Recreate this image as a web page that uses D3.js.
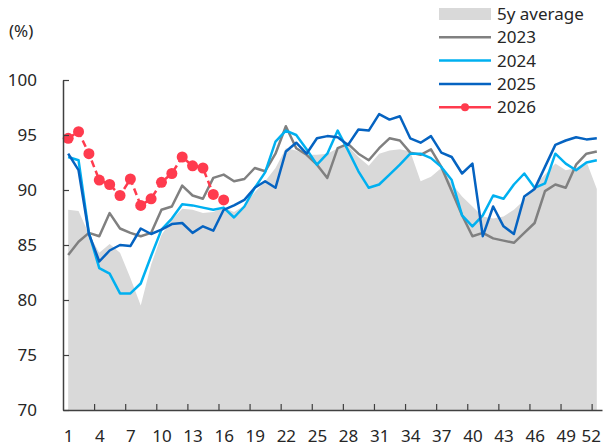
<!DOCTYPE html>
<html>
<head>
<meta charset="utf-8">
<script src="https://cdn.jsdelivr.net/npm/d3@7"></script>
<style>
  body { margin: 0; background: #fff; }
  svg { display: block; font-family: "Noto Sans", "Open Sans", sans-serif; }
</style>
</head>
<body>
<div id="chart"></div>
<script>
// weeks 1..52
const weeks = d3.range(1, 53);
const xTickLabels = [1, 4, 7, 10, 13, 16, 19, 22, 25, 28, 31, 34, 37, 40, 43, 46, 49, 52];
const yTicks = [70, 75, 80, 85, 90, 95, 100];

const avg5y = [88.2, 88.1, 86.0, 84.3, 85.1, 84.3, 82.0, 79.5, 83.2, 85.9,
  87.3, 88.3, 88.2, 87.9, 88.0, 88.4, 88.0, 88.6, 89.8, 90.8,
  92.0, 93.8, 93.6, 93.2, 93.2, 93.3, 93.8, 94.0, 93.0, 92.2,
  93.3, 93.6, 93.7, 93.5, 90.8, 91.2, 92.0, 90.6, 89.4, 88.5,
  87.6, 87.4, 87.6, 88.2, 89.1, 90.4, 91.4, 92.4, 91.8, 92.0,
  92.6, 90.1];

const y2023 = [84.1, 85.3, 86.1, 85.8, 87.9, 86.5, 86.1, 85.8, 86.1, 88.2,
  88.5, 90.4, 89.5, 89.2, 91.1, 91.4, 90.8, 91.0, 92.0, 91.7,
  93.3, 95.8, 93.8, 93.2, 92.3, 91.1, 93.8, 94.2, 93.3, 92.7,
  93.8, 94.7, 94.5, 93.4, 93.2, 93.7, 92.1, 89.9, 87.7, 85.8,
  86.1, 85.6, 85.4, 85.2, 86.1, 87.0, 89.9, 90.5, 90.2, 92.3,
  93.3, 93.5];

const y2024 = [93.0, 92.7, 86.1, 82.9, 82.4, 80.6, 80.6, 81.5, 84.0, 86.4,
  87.4, 88.7, 88.6, 88.4, 88.2, 88.4, 87.5, 88.5, 90.2, 91.6,
  94.4, 95.4, 95.0, 93.7, 92.3, 93.3, 95.4, 93.6, 91.7, 90.2,
  90.5, 91.4, 92.3, 93.3, 93.3, 92.9, 92.1, 90.9, 87.7, 86.7,
  87.7, 89.5, 89.2, 90.5, 91.5, 90.2, 90.6, 93.3, 92.4, 91.8,
  92.5, 92.7];

const y2025 = [93.3, 91.8, 86.0, 83.5, 84.5, 85.0, 84.9, 86.5, 86.0, 86.4,
  86.9, 87.0, 86.1, 86.7, 86.3, 88.2, 88.6, 89.1, 90.2, 90.8,
  90.2, 93.5, 94.3, 93.3, 94.7, 94.9, 94.8, 94.1, 95.5, 95.4,
  96.9, 96.4, 96.7, 94.7, 94.3, 94.9, 93.4, 93.0, 91.5, 92.4,
  85.8, 88.5, 86.7, 86.0, 89.4, 90.1, 92.1, 94.1, 94.5, 94.8,
  94.6, 94.7];

const y2026 = [94.7, 95.3, 93.3, 90.9, 90.5, 89.5, 91.0, 88.6, 89.2, 90.7,
  91.5, 93.0, 92.2, 92.0, 89.6, 89.1];

const width = 607;
const height = 447;
const plot = { left: 63, right: 602, top: 80, bottom: 410 };

const colors = {
  avg: "#d9d9d9",
  y2023: "#808080",
  y2024: "#00b0f0",
  y2025: "#0563c1",
  y2026: "#ff3b4e",
  text: "#262626",
  axis: "#404040"
};

const svg = d3.select("#chart")
  .append("svg")
  .attr("width", width)
  .attr("height", height);

const x = d3.scaleLinear()
  .domain([0.5, 52.5])
  .range([plot.left, plot.right]);

const y = d3.scaleLinear()
  .domain([70, 100])
  .range([plot.bottom, plot.top]);

// 5y average area
const area = d3.area()
  .x((d, i) => x(weeks[i]))
  .y0(y(70))
  .y1(d => y(d));

svg.append("path")
  .datum(avg5y)
  .attr("d", area)
  .attr("fill", colors.avg);

const line = d3.line()
  .x((d, i) => x(weeks[i]))
  .y(d => y(d));

const series = [
  { data: y2023, color: colors.y2023 },
  { data: y2024, color: colors.y2024 },
  { data: y2025, color: colors.y2025 }
];

series.forEach(s => {
  svg.append("path")
    .datum(s.data)
    .attr("d", line)
    .attr("fill", "none")
    .attr("stroke", s.color)
    .attr("stroke-width", 2.5)
    .attr("stroke-linejoin", "round");
});

// 2026 dashed with dots
svg.append("path")
  .datum(y2026)
  .attr("d", line)
  .attr("fill", "none")
  .attr("stroke", colors.y2026)
  .attr("stroke-width", 2.5)
  .attr("stroke-dasharray", "7,4");

svg.append("g")
  .selectAll("circle")
  .data(y2026)
  .join("circle")
  .attr("cx", (d, i) => x(weeks[i]))
  .attr("cy", d => y(d))
  .attr("r", 5.5)
  .attr("fill", colors.y2026);

// =================== Axes ===================
const yAxis = svg.append("g")
  .attr("transform", `translate(${plot.left},0)`)
  .call(d3.axisLeft(y)
    .tickValues(yTicks)
    .tickSizeInner(-6)
    .tickSizeOuter(0)
    .tickPadding(26));

const xAxis = svg.append("g")
  .attr("transform", `translate(0,${plot.bottom})`)
  .call(d3.axisBottom(x)
    .tickValues(d3.range(3.5, 52, 3))
    .tickSizeInner(-6)
    .tickSizeOuter(0)
    .tickFormat(""));

const xLabels = svg.append("g")
  .attr("transform", `translate(0,${plot.bottom})`)
  .call(d3.axisBottom(x)
    .tickValues(xTickLabels)
    .tickSize(0)
    .tickPadding(20));
xLabels.select(".domain").remove();
xLabels.selectAll("text")
  .filter(d => d === 52)
  .attr("dx", -6);

[yAxis, xAxis, xLabels].forEach(ax => {
  ax.selectAll(".domain").attr("stroke", colors.axis).attr("stroke-width", 1.5);
  ax.selectAll(".tick line").attr("stroke", colors.axis).attr("stroke-width", 1.2);
  ax.selectAll("text")
    .attr("fill", colors.text)
    .style("font-size", "17px")
    .style("font-family", "\"Noto Sans\", \"Open Sans\", sans-serif");
});

svg.append("text")
  .attr("x", 9)
  .attr("y", 37)
  .attr("fill", colors.text)
  .style("font-size", "17px")
  .text("(%)");

// =================== Legend ===================
const legendItems = [
  { label: "5y average", type: "area", color: colors.avg },
  { label: "2023", type: "line", color: colors.y2023 },
  { label: "2024", type: "line", color: colors.y2024 },
  { label: "2025", type: "line", color: colors.y2025 },
  { label: "2026", type: "dot", color: colors.y2026 }
];

const legend = svg.append("g")
  .attr("transform", "translate(439,14)");

const item = legend.selectAll("g")
  .data(legendItems)
  .join("g")
  .attr("transform", (d, i) => `translate(0,${i * 23.3})`);

item.filter(d => d.type === "area")
  .append("rect")
  .attr("x", 0)
  .attr("y", -6)
  .attr("width", 52)
  .attr("height", 12)
  .attr("fill", d => d.color);

item.filter(d => d.type !== "area")
  .append("line")
  .attr("x1", 0)
  .attr("x2", 52)
  .attr("stroke", d => d.color)
  .attr("stroke-width", 2.5);

item.filter(d => d.type === "dot")
  .append("circle")
  .attr("cx", 26)
  .attr("r", 4)
  .attr("fill", d => d.color);

item.append("text")
  .attr("x", 58)
  .attr("dy", "0.35em")
  .attr("fill", colors.text)
  .style("font-size", "17px")
  .text(d => d.label);
</script>
</body>
</html>
